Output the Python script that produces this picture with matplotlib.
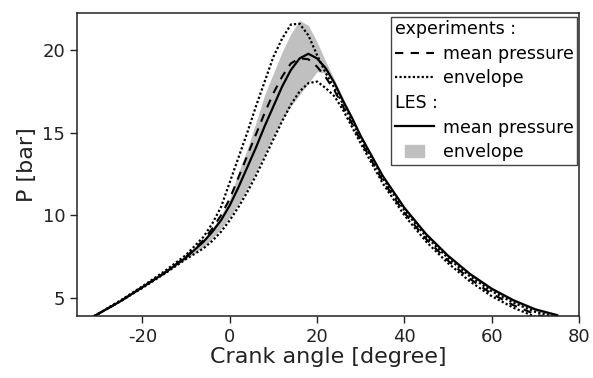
import matplotlib
matplotlib.use('Agg')
import matplotlib.pyplot as plt
from matplotlib.lines import Line2D
from matplotlib.patches import Patch, Rectangle
from matplotlib.legend_handler import HandlerPatch

# crank angle grid [degree]
angle = [-31, -25, -20, -15, -10, -6, -4, -2, 0, 2, 4, 6, 8, 10, 12, 14, 16,
         18, 20, 22, 24, 26, 28, 30, 35, 40, 45, 50, 55, 60, 65, 70, 75]

# LES mean pressure [bar]
les_mean = [3.9, 4.8, 5.65, 6.5, 7.45, 8.4, 9.0, 9.7, 10.6, 11.7, 12.9, 14.1,
            15.4, 16.6, 17.8, 18.8, 19.5, 19.78, 19.5, 18.9, 18.0, 16.9,
            15.9, 14.8, 12.4, 10.45, 8.85, 7.55, 6.45, 5.55, 4.85, 4.3, 3.95]
# LES envelope
les_max = [3.9, 4.8, 5.65, 6.55, 7.5, 8.5, 9.2, 10.0, 11.0, 12.6, 14.0, 15.6,
           17.3, 18.6, 19.9, 21.0, 21.8, 21.5, 20.5, 19.3, 18.2, 17.1,
           16.0, 14.9, 12.5, 10.55, 8.95, 7.65, 6.55, 5.65, 4.95, 4.4, 4.05]
les_min = [3.9, 4.8, 5.6, 6.45, 7.35, 8.1, 8.6, 9.2, 9.9, 10.7, 11.6, 12.6,
           13.7, 14.8, 15.8, 16.6, 17.3, 18.0, 18.7, 18.6, 17.9, 16.8,
           15.8, 14.7, 12.3, 10.35, 8.75, 7.45, 6.35, 5.45, 4.75, 4.2, 3.85]

# experiments
exp_mean = [3.9, 4.8, 5.65, 6.5, 7.5, 8.5, 9.2, 10.0, 11.0, 12.3, 13.6, 14.9,
            16.2, 17.4, 18.4, 19.2, 19.5, 19.45, 19.0, 18.35, 17.55, 16.55,
            15.55, 14.5, 12.1, 10.15, 8.55, 7.25, 6.15, 5.25, 4.55, 4.0, 3.65]
exp_max = [3.9, 4.85, 5.7, 6.6, 7.6, 8.7, 9.5, 10.5, 12.0, 13.5, 15.0, 16.6,
           18.1, 19.6, 20.7, 21.55, 21.6, 20.9, 19.7, 18.6, 17.7, 16.7,
           15.7, 14.65, 12.25, 10.3, 8.7, 7.4, 6.3, 5.4, 4.7, 4.15, 3.8]
exp_min = [3.9, 4.8, 5.6, 6.45, 7.35, 8.0, 8.45, 9.0, 9.7, 10.5, 11.4, 12.4,
           13.5, 14.6, 15.7, 16.7, 17.5, 18.0, 18.1, 17.7, 17.2, 16.35,
           15.35, 14.35, 11.95, 10.0, 8.4, 7.1, 6.0, 5.1, 4.4, 3.85, 3.5]

xticks = [-20, 0, 20, 40, 60, 80]
yticks = [5, 10, 15, 20]

plt.rcParams['font.family'] = 'DejaVu Sans'
plt.rcParams['axes.unicode_minus'] = False
fig = plt.figure(figsize=(5.93, 3.78), dpi=100)
ax = fig.add_axes([0.1298, 0.164, 0.8466, 0.8016])

gray = '#c0c0c0'
ax.fill_between(angle, les_min, les_max, color=gray, lw=0)
ax.plot(angle, exp_max, color='k', lw=1.6, ls=(0, (1, 1)))
ax.plot(angle, exp_min, color='k', lw=1.6, ls=(0, (1, 1)))
ax.plot(angle, exp_mean, color='k', lw=1.5, ls=(0, (4, 3.5)))
ax.plot(angle, les_mean, color='k', lw=1.6)

ax.set_xlim(-35, 80)
ax.set_ylim(3.9, 22.25)
ax.set_xticks(xticks)
ax.set_yticks(yticks)
ax.tick_params(direction='out', length=5, width=1, labelsize=13, color='#222',
               labelcolor='#222', top=False, right=False)
for s in ax.spines.values():
    s.set_linewidth(1.1)
    s.set_color('#222')

ax.set_xlabel('Crank angle [degree]', fontsize=16, color='#222', labelpad=1)
ax.set_ylabel('P [bar]', fontsize=16, color='#222', labelpad=4)


def small_box(legend, orig_handle, xdescent, ydescent, width, height, fontsize):
    w = width * 0.5
    return Rectangle((-xdescent + (width - w) / 2, -ydescent), w, height)


blank = Line2D([], [], ls='none')
handles = [blank,
           Line2D([], [], color='k', lw=1.5, ls=(0, (4, 3.5))),
           Line2D([], [], color='k', lw=1.6, ls=(0, (1, 1))),
           blank,
           Line2D([], [], color='k', lw=1.6),
           Patch(color=gray)]
labels = ['experiments :', 'mean pressure', 'envelope',
          'LES :', 'mean pressure', 'envelope']
leg = ax.legend(handles, labels, loc='upper right', bbox_to_anchor=(0.997, 0.988),
                borderaxespad=0, fontsize=12.5, frameon=True, fancybox=False,
                edgecolor='#444', framealpha=1, handlelength=2.3, handletextpad=0.5,
                labelspacing=0.38, borderpad=0.2,
                handler_map={Patch: HandlerPatch(patch_func=small_box)})
leg.get_frame().set_linewidth(1.0)
# header rows: no handle space
for vpack in leg._legend_handle_box.get_children():
    for i, hpack in enumerate(vpack.get_children()):
        if labels[i].endswith(':'):
            hpack.get_children()[0].set_width(0)
            hpack.sep = 0

fig.savefig('out.png', dpi=100)
